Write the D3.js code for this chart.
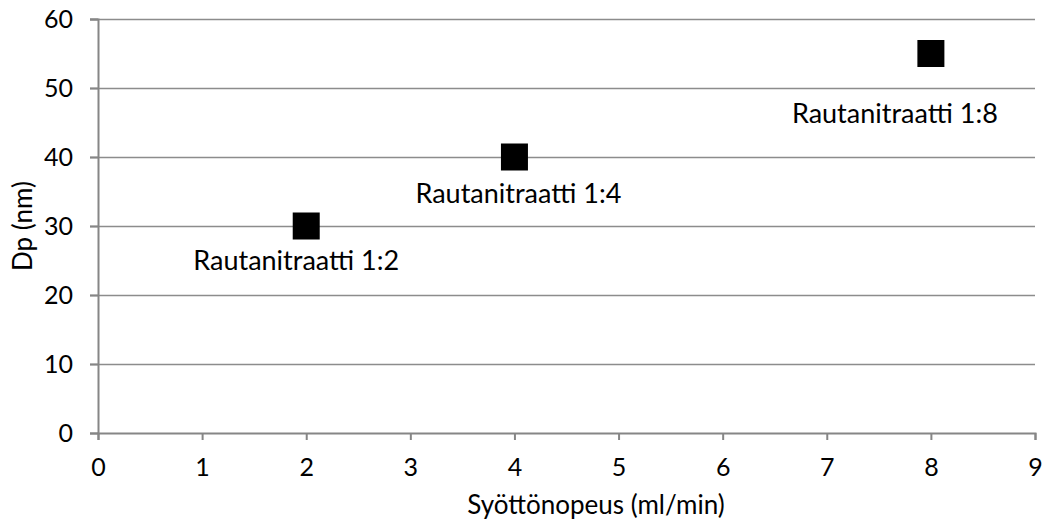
<!DOCTYPE html>
<html>
<head>
<meta charset="utf-8">
<script src="https://cdn.jsdelivr.net/npm/d3@7"></script>
<style>
	body { margin: 0; background: #fff; }
	text { font-family: Lato, "Open Sans", sans-serif; fill: #000; }
</style>
</head>
<body>
<div id="chart"></div>
<script>
/* scatter: Dp vs feed rate */

// data
var feedRate = [2, 4, 8];
var particleSize = [30, 40, 55];
var pointLabels = ["Rautanitraatti 1:2", "Rautanitraatti 1:4", "Rautanitraatti 1:8"];
var xTicks = [0, 1, 2, 3, 4, 5, 6, 7, 8, 9];
var yTicks = [0, 10, 20, 30, 40, 50, 60];
var xTitle = "Syöttönopeus (ml/min)";
var yTitle = "Dp (nm)";

// label nudges (px) relative to each marker centre
var labelDx = [-10, 4, -36];
var labelDy = [44, 46, 69];

var width = 1048, height = 524;
var margin = {top: 19, right: 13, bottom: 91, left: 98};

var svg = d3.select("#chart").append("svg")
	.attr("width", width)
	.attr("height", height);

var x = d3.scaleLinear()
	.domain([0, 9])
	.range([margin.left, width - margin.right]);

var y = d3.scaleLinear()
	.domain([0, 60])
	.range([height - margin.bottom, margin.top]);

// gridlines
svg.append("g")
	.selectAll("line")
	.data(yTicks.filter(d => d > 0))
	.enter()
	.append("line")
	.attr("x1", x(0) - 8)
	.attr("x2", x(9))
	.attr("y1", d => Math.round(y(d)) + 0.5)
	.attr("y2", d => Math.round(y(d)) + 0.5)
	.attr("stroke", "#8c8c8c")
	.attr("stroke-width", 1.5);

// y axis
var yAxis = svg.append("g")
	.attr("transform", `translate(${x(0)},0)`)
	.call(d3.axisLeft(y).tickValues(yTicks).tickSize(8).tickPadding(17));

// x axis
var xAxis = svg.append("g")
	.attr("transform", `translate(0,${y(0)})`)
	.call(d3.axisBottom(x).tickValues(xTicks).tickSize(7).tickPadding(18));

[xAxis, yAxis].forEach(g => {
	g.select(".domain").attr("stroke", "#868686").attr("stroke-width", 2);
	g.selectAll(".tick line").attr("stroke", "#868686").attr("stroke-width", 2);
	g.selectAll(".tick text")
		.style("font-family", "Lato, sans-serif")
		.style("font-size", "25px")
		.attr("fill", "#000");
});

// markers
var pts = feedRate.map((d, i) => ({x: d, y: particleSize[i], label: pointLabels[i], dx: labelDx[i], dy: labelDy[i]}));
var size = 27;

svg.append("g")
	.selectAll("rect")
	.data(pts)
	.enter()
	.append("rect")
	.attr("x", d => x(d.x) - size / 2)
	.attr("y", d => y(d.y) - size / 2)
	.attr("width", size)
	.attr("height", size)
	.attr("fill", "#000");

// data labels
svg.append("g")
	.selectAll("text")
	.data(pts)
	.enter()
	.append("text")
	.attr("x", d => x(d.x) + d.dx)
	.attr("y", d => y(d.y) + d.dy)
	.attr("text-anchor", "middle")
	.style("font-size", "27px")
	.text(d => d.label);

// axis titles
svg.append("text")
	.attr("x", 596)
	.attr("y", 514)
	.attr("text-anchor", "middle")
	.style("font-size", "26px")
	.text(xTitle);

svg.append("text")
	.attr("transform", `translate(32,${(y(0) + y(60)) / 2}) rotate(-90)`)
	.attr("text-anchor", "middle")
	.style("font-size", "26px")
	.text(yTitle);
</script>
</body>
</html>
